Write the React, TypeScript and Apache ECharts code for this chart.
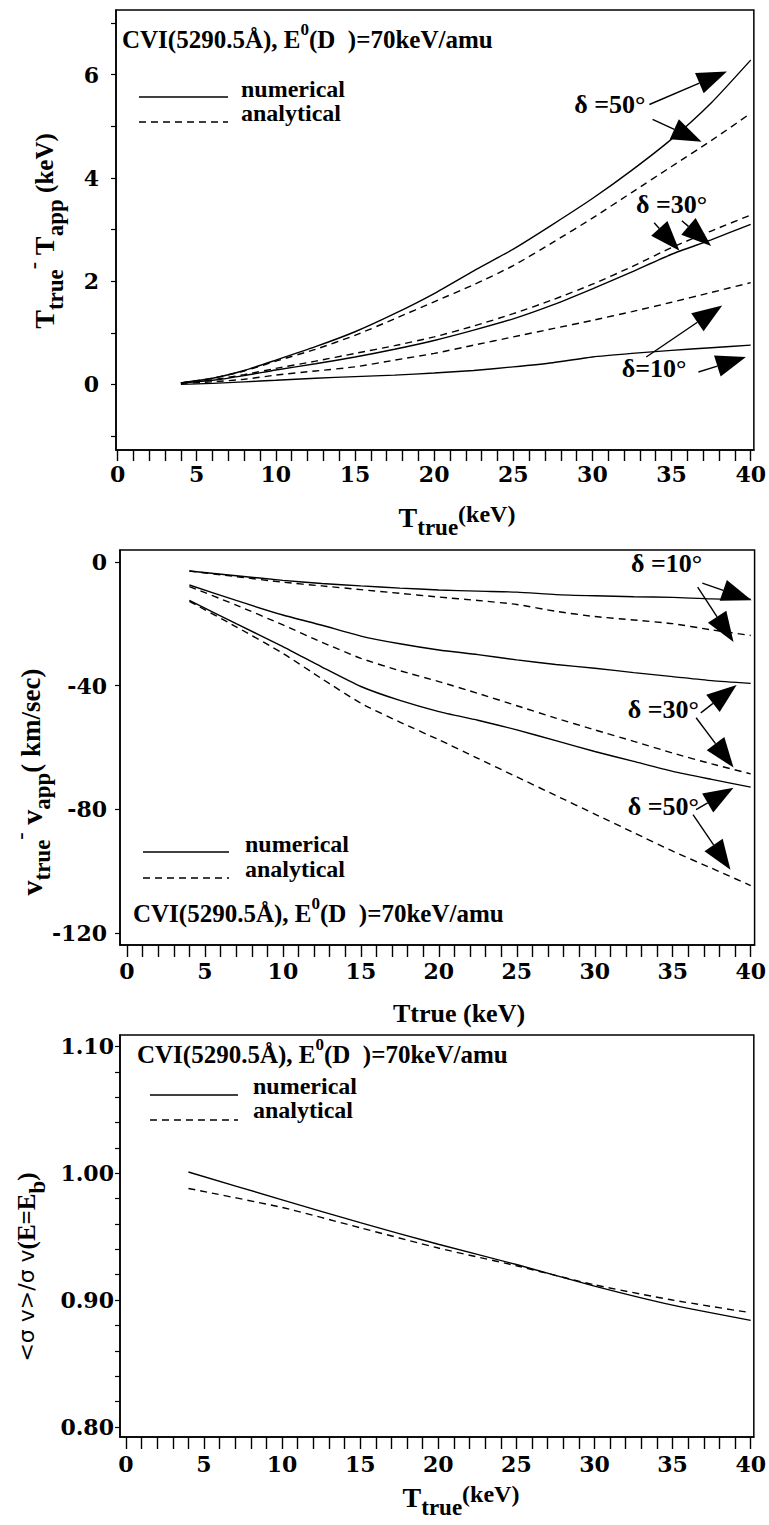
import React, { useEffect, useRef } from 'react';
import * as echarts from 'echarts';

const FONT = '"Liberation Serif", "Times New Roman", Times, serif';
const TICKFONT = '"DejaVu Serif", "Liberation Serif", serif';

// ---------- Panel 1 : T_true - T_app (keV) ----------
const xTop = [4, 6, 8, 10, 12.5, 15, 17.5, 20, 22.5, 25, 27.5, 30, 32.5, 35, 37.5, 40];
const topNum10 = [0.0, 0.02, 0.05, 0.08, 0.12, 0.15, 0.18, 0.22, 0.27, 0.34, 0.42, 0.53, 0.6, 0.66, 0.71, 0.76];
const topAna10 = [0.02, 0.05, 0.1, 0.18, 0.26, 0.34, 0.47, 0.6, 0.76, 0.92, 1.08, 1.24, 1.41, 1.59, 1.78, 1.97];
const topNum30 = [0.03, 0.08, 0.17, 0.28, 0.4, 0.53, 0.68, 0.85, 1.05, 1.27, 1.54, 1.85, 2.18, 2.52, 2.8, 3.1];
const topAna30 = [0.03, 0.09, 0.19, 0.31, 0.45, 0.6, 0.75, 0.92, 1.13, 1.37, 1.64, 1.94, 2.28, 2.65, 2.97, 3.28];
const topNum50 = [0.03, 0.12, 0.27, 0.47, 0.73, 1.02, 1.37, 1.76, 2.2, 2.62, 3.1, 3.6, 4.15, 4.75, 5.45, 6.28];
const topAna50 = [0.03, 0.12, 0.26, 0.45, 0.68, 0.95, 1.27, 1.6, 1.93, 2.3, 2.75, 3.22, 3.72, 4.22, 4.72, 5.25];

// ---------- Panel 2 : v_true - v_app (km/sec) ----------
const xMid = [4, 7, 10, 12.5, 15, 17.5, 20, 22.5, 25, 27.5, 30, 32.5, 35, 37.5, 40];
const midNum10 = [-3, -4.5, -6, -7, -7.8, -8.5, -9.1, -9.5, -9.8, -10.6, -11, -11.3, -11.5, -12, -12.1];
const midAna10 = [-3, -4.8, -6.6, -7.8, -9, -10.2, -11.4, -12.5, -13.8, -16, -17.7, -18.8, -20, -22, -23.8];
const midNum30 = [-7.5, -12.5, -17.2, -20.5, -24, -26.5, -28.5, -30, -31.7, -33.2, -34.4, -35.8, -37.1, -38.4, -39.3];
const midAna30 = [-8, -14, -20.4, -26, -31.2, -35.2, -38.7, -42.5, -46.5, -50.5, -54.3, -58, -61.8, -65.3, -68.5];
const midNum50 = [-12.5, -20, -27.4, -34, -40.3, -44.8, -48.4, -51.2, -54.3, -57.8, -61.3, -64.5, -67.7, -70.3, -72.8];
const midAna50 = [-12.8, -21, -29.6, -37.8, -45.7, -51.8, -57.5, -63.5, -69.5, -75.5, -81.5, -87.5, -93.5, -99, -104.6];

// ---------- Panel 3 : <sigma v>/sigma v(E=Eb) ----------
const xBot = [4, 10, 15, 20, 25, 30, 35, 40];
const botNum = [1.001, 0.979, 0.961, 0.944, 0.928, 0.911, 0.896, 0.884];
const botAna = [0.988, 0.973, 0.957, 0.941, 0.927, 0.912, 0.9, 0.89];

// ---------- ticks ----------
const xTickValues = [0, 1, 2, 3, 4, 5, 6, 7, 8, 9, 10, 11, 12, 13, 14, 15, 16, 17, 18, 19, 20, 21, 22, 23, 24, 25, 26, 27, 28, 29, 30, 31, 32, 33, 34, 35, 36, 37, 38, 39, 40];
const xLabelValues = [0, 5, 10, 15, 20, 25, 30, 35, 40];
const topYTicks = [-1, 0, 1, 2, 3, 4, 5, 6, 7];
const topYLabels = [0, 2, 4, 6];
const midYTicks = [0, -40, -80, -120];
const midYLabels = [0, -40, -80, -120];
const botYTicks = [0.8, 0.82, 0.84, 0.86, 0.88, 0.9, 0.92, 0.94, 0.96, 0.98, 1.0, 1.02, 1.04, 1.06, 1.08, 1.1];
const botYLabels = [0.8, 0.9, 1.0, 1.1];

// ---------- annotations (data coordinates) ----------
const topLabels: [string, number, number][] = [
  ['δ =50°', 31.1, 5.42],
  ['δ =30°', 35.0, 3.49],
  ['δ=10°', 33.9, 0.31],
];
const topArrows: [number, number, number, number][] = [
  [33.6, 5.42, 38.5, 6.06],
  [33.8, 5.13, 36.9, 4.7],
  [33.9, 3.13, 35.5, 2.59],
  [35.65, 3.17, 37.5, 2.68],
  [33.4, 0.53, 38.2, 1.53],
  [36.7, 0.24, 39.7, 0.53],
];
const midLabels: [string, number, number][] = [
  ['δ =10°', 34.6, -0.4],
  ['δ =30°', 34.4, -47.8],
  ['δ =50°', 34.4, -79.1],
];
const midArrows: [number, number, number, number][] = [
  [36.9, -6.9, 40.06, -12.4],
  [36.6, -8.2, 38.9, -25.9],
  [36.8, -48.8, 39.1, -39.8],
  [36.5, -50.4, 38.9, -66.5],
  [36.5, -80.1, 38.9, -73.0],
  [36.3, -81.7, 38.7, -99.5],
];

const TITLE_A = 'CVI(5290.5Å), E';
const TITLE_SUP = '0';
const TITLE_B = '(D  )=70keV/amu';

function lineSeries(xs: number[], ys: number[], dashed: boolean, idx: number) {
  return {
    type: 'line',
    name: dashed ? 'analytical' : 'numerical',
    xAxisIndex: idx,
    yAxisIndex: idx,
    data: xs.map((x, i) => [x, ys[i]]),
    showSymbol: false,
    symbol: 'none',
    smooth: 0.2,
    silent: true,
    lineStyle: { color: '#000', width: 1.4, type: dashed ? [7, 5] : 'solid' },
  };
}

const grids = [
  { left: 116, top: 10, width: 638, height: 440 },
  { left: 120, top: 550, width: 640, height: 395 },
  { left: 120, top: 1035, width: 634, height: 402 },
];
const xRanges = [
  [-0.1, 40.2],
  [-0.45, 40.25],
  [-0.38, 40.2],
];
const yRanges = [
  [-1.27, 7.25],
  [-123.8, 3.8],
  [0.792, 1.109],
];
const xLabelMargins = [13, 15, 16];
const xTickLens = [11, 12, 12];

const tickFont = { fontSize: 22, fontWeight: 'bold', fontFamily: TICKFONT, color: '#000' };

export default function App() {
  const ref = useRef<HTMLDivElement>(null);
  useEffect(() => {
    if (!ref.current) return;
    const chart = echarts.init(ref.current, null, { renderer: 'svg' });
    const option: any = {
      animation: false,
      backgroundColor: '#fff',
      grid: grids.map((g) => ({ ...g, show: true, borderColor: '#000', borderWidth: 1.5, backgroundColor: 'transparent' })),
      xAxis: [0, 1, 2].map((i) => ({
        type: 'value',
        gridIndex: i,
        min: xRanges[i][0],
        max: xRanges[i][1],
        axisLine: { show: true, onZero: false, lineStyle: { color: '#000', width: 1.5 } },
        axisTick: { show: true, inside: false, length: xTickLens[i], customValues: xTickValues, lineStyle: { color: '#000', width: 1.4 } },
        axisLabel: { ...tickFont, customValues: xLabelValues, margin: xLabelMargins[i] },
        splitLine: { show: false },
      })),
      yAxis: [
        {
          type: 'value', gridIndex: 0, min: yRanges[0][0], max: yRanges[0][1],
          axisLine: { show: true, onZero: false, lineStyle: { color: '#000', width: 1.5 } },
          axisTick: { show: true, length: 5, customValues: topYTicks, lineStyle: { color: '#000', width: 1.2 } },
          axisLabel: { ...tickFont, customValues: topYLabels, margin: 17 },
          splitLine: { show: false },
        },
        {
          type: 'value', gridIndex: 1, min: yRanges[1][0], max: yRanges[1][1],
          axisLine: { show: true, onZero: false, lineStyle: { color: '#000', width: 1.5 } },
          axisTick: { show: true, length: 5, customValues: midYTicks, lineStyle: { color: '#000', width: 1.2 } },
          axisLabel: { ...tickFont, customValues: midYLabels, margin: 13 },
          splitLine: { show: false },
        },
        {
          type: 'value', gridIndex: 2, min: yRanges[2][0], max: yRanges[2][1],
          axisLine: { show: true, onZero: false, lineStyle: { color: '#000', width: 1.5 } },
          axisTick: { show: true, length: 5, customValues: botYTicks, lineStyle: { color: '#000', width: 1.2 } },
          axisLabel: { ...tickFont, customValues: botYLabels, margin: 6, formatter: (v: number) => v.toFixed(2) },
          splitLine: { show: false },
        },
      ],
      series: [
        lineSeries(xTop, topNum10, false, 0),
        lineSeries(xTop, topAna10, true, 0),
        lineSeries(xTop, topNum30, false, 0),
        lineSeries(xTop, topAna30, true, 0),
        lineSeries(xTop, topNum50, false, 0),
        lineSeries(xTop, topAna50, true, 0),
        lineSeries(xMid, midNum10, false, 1),
        lineSeries(xMid, midAna10, true, 1),
        lineSeries(xMid, midNum30, false, 1),
        lineSeries(xMid, midAna30, true, 1),
        lineSeries(xMid, midNum50, false, 1),
        lineSeries(xMid, midAna50, true, 1),
        lineSeries(xBot, botNum, false, 2),
        lineSeries(xBot, botAna, true, 2),
      ],
    };
    chart.setOption(option);

    const g: any[] = [];
    const txt = (text: string, x: number, y: number, size: number, align = 'left', extra: any = {}) => ({
      type: 'text', x, y, silent: true,
      style: { text, fontSize: size, fontWeight: 'bold', fontFamily: FONT, fill: '#000', align, verticalAlign: 'middle', ...extra },
    });
    const seg = (x1: number, y1: number, x2: number, y2: number, dashed = false) => ({
      type: 'line', silent: true,
      shape: { x1, y1, x2, y2 },
      style: { stroke: '#000', lineWidth: 1.4, lineDash: dashed ? [7, 5] : null },
    });
    const arrow = (gi: number, a: number[]) => {
      const p0 = chart.convertToPixel({ gridIndex: gi }, [a[0], a[1]]) as number[];
      const p1 = chart.convertToPixel({ gridIndex: gi }, [a[2], a[3]]) as number[];
      const dx = p1[0] - p0[0], dy = p1[1] - p0[1];
      const d = Math.hypot(dx, dy) || 1;
      const ux = dx / d, uy = dy / d;
      const len = 30, hw = 11;
      const bx = p1[0] - ux * len, by = p1[1] - uy * len;
      const nx = -uy, ny = ux;
      g.push(seg(p0[0], p0[1], bx, by));
      g.push({
        type: 'polygon', silent: true,
        shape: { points: [[p1[0], p1[1]], [bx + nx * hw, by + ny * hw], [bx - nx * hw, by - ny * hw]] },
        style: { fill: '#000' },
      });
    };
    const label = (gi: number, l: [string, number, number]) => {
      const p = chart.convertToPixel({ gridIndex: gi }, [l[1], l[2]]) as number[];
      g.push(txt(l[0], p[0], p[1], 26, 'center'));
    };
    topArrows.forEach((a) => arrow(0, a));
    midArrows.forEach((a) => arrow(1, a));
    topLabels.forEach((l) => label(0, l));
    midLabels.forEach((l) => label(1, l));

    // titles with the superscript 0
    const titleRich = {
      a: { fontSize: 25, fontWeight: 'bold', fontFamily: FONT, lineHeight: 36, verticalAlign: 'middle' },
      z: { fontSize: 17, fontWeight: 'bold', fontFamily: FONT, lineHeight: 17, verticalAlign: 'top' },
    };
    const title = (x: number, y: number) => {
      g.push({
        type: 'text', x, y, silent: true,
        style: { text: `{a|${TITLE_A}}{z|${TITLE_SUP}}{a|${TITLE_B}}`, rich: titleRich, fill: '#000', align: 'left', verticalAlign: 'middle' },
      });
    };
    title(122, 39);
    title(133, 913);
    title(137, 1054);

    // legends
    const legend = (x1: number, x2: number, yN: number, yA: number, tx: number, lN: number, lA: number) => {
      g.push(seg(x1, lN, x2, lN));
      g.push(txt('numerical', tx, yN, 24, 'left', { lineHeight: 20 }));
      g.push(seg(x1, lA, x2, lA, true));
      g.push(txt('analytical', tx, yA, 24, 'left', { lineHeight: 20 }));
    };
    legend(139, 228, 89, 113, 241, 97, 122);
    legend(143, 229, 844, 869, 245, 852, 878);
    legend(150, 238, 1086, 1110, 253, 1095, 1120);

    // axis titles
    const xRich = {
      t: { fontSize: 28, fontWeight: 'bold', fontFamily: FONT, lineHeight: 44, verticalAlign: 'middle' },
      s: { fontSize: 23, fontWeight: 'bold', fontFamily: FONT, lineHeight: 20, verticalAlign: 'bottom' },
      k: { fontSize: 24, fontWeight: 'bold', fontFamily: FONT, lineHeight: 44, verticalAlign: 'middle', padding: [0, 0, 6, 0] },
    };
    g.push({ type: 'text', x: 457, y: 517, silent: true, style: { text: '{t|T}{s|true}{k|(keV)}', rich: xRich, fill: '#000', align: 'center', verticalAlign: 'middle' } });
    g.push(txt('Ttrue (keV)', 459, 1013, 26, 'center'));
    g.push({ type: 'text', x: 461, y: 1497, silent: true, style: { text: '{t|T}{s|true}{k|(keV)}', rich: xRich, fill: '#000', align: 'center', verticalAlign: 'middle' } });

    const yRich = {
      t: { fontSize: 28, fontWeight: 'bold', fontFamily: FONT, lineHeight: 46, verticalAlign: 'middle' },
      s: { fontSize: 23, fontWeight: 'bold', fontFamily: FONT, lineHeight: 21, verticalAlign: 'bottom' },
      m: { fontSize: 22, fontWeight: 'bold', fontFamily: FONT, lineHeight: 30, verticalAlign: 'top' },
      k: { fontSize: 25, fontWeight: 'bold', fontFamily: FONT, lineHeight: 46, verticalAlign: 'middle' },
      r: { fontSize: 22, fontFamily: '"DejaVu Sans", sans-serif', lineHeight: 46, verticalAlign: 'middle' },
    };
    const yRich2 = {
      ...yRich,
      t: { ...yRich.t, fontSize: 30 },
      k: { ...yRich.k, fontSize: 27 },
    };
    g.push({ type: 'text', x: 44, y: 231, rotation: Math.PI / 2, silent: true, style: { text: '{t|T}{s|true}{m|-}{t| T}{s|app}{k| (keV)}', rich: yRich, fill: '#000', align: 'center', verticalAlign: 'middle' } });
    g.push({ type: 'text', x: 31, y: 782, rotation: Math.PI / 2, silent: true, style: { text: '{t|v}{s|true}{m|-}{t| v}{s|app}{k|( km/sec)}', rich: yRich2, fill: '#000', align: 'center', verticalAlign: 'middle' } });
    g.push({ type: 'text', x: 26, y: 1267, rotation: Math.PI / 2, silent: true, style: { text: '{r|<σ v>/σ v}{k|(E=E}{s|b}{k|)}', rich: yRich, fill: '#000', align: 'center', verticalAlign: 'middle' } });

    chart.setOption({ graphic: g });
    return () => chart.dispose();
  }, []);
  return <div ref={ref} style={{ position: 'absolute', left: 0, top: 0, width: 769, height: 1525, background: '#fff' }} />;
}
